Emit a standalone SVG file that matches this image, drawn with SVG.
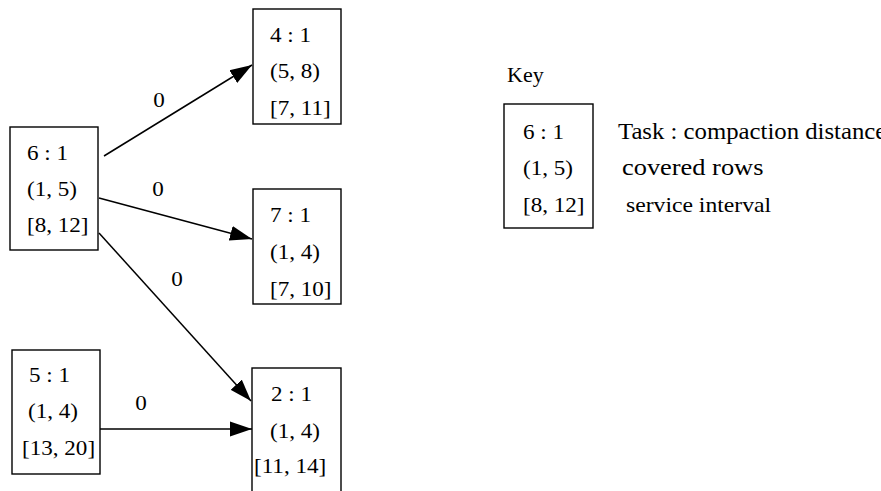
<svg xmlns="http://www.w3.org/2000/svg" width="881" height="491" viewBox="0 0 881 491">
<style>
  .box { fill: #ffffff; stroke: #000000; stroke-width: 1.4; }
  .edge { fill: none; stroke: #000000; stroke-width: 1.5; }
  text { font-family: "Liberation Serif", "Times New Roman", serif; fill: #000000; }
  .n { font-size: 21px; }
  .lbl { font-size: 21px; text-anchor: middle; }
</style>
<defs>
  <marker id="arrow" markerUnits="userSpaceOnUse" markerWidth="24" markerHeight="16" refX="22" refY="8" orient="auto">
    <path d="M0,0.5 L22,8 L0,15.5 z" fill="#000000"/>
  </marker>
</defs>
<rect width="881" height="491" fill="#ffffff"/>
<g id="connectors">
  <line class="edge" x1="104" y1="156" x2="252" y2="65" marker-end="url(#arrow)"/>
  <text class="lbl" transform="translate(159,107) scale(1.1,1)">0</text>
  <line class="edge" x1="99" y1="198" x2="252" y2="239" marker-end="url(#arrow)"/>
  <text class="lbl" transform="translate(158,196) scale(1.1,1)">0</text>
  <line class="edge" x1="99" y1="233" x2="251" y2="401" marker-end="url(#arrow)"/>
  <text class="lbl" transform="translate(177,286) scale(1.1,1)">0</text>
  <line class="edge" x1="100" y1="429" x2="252" y2="429" marker-end="url(#arrow)"/>
  <text class="lbl" transform="translate(141,410) scale(1.1,1)">0</text>
</g>
<g id="node6">
  <rect class="box" x="10" y="127" width="88" height="123"/>
  <text class="n" transform="translate(27,160) scale(1.1,1)">6 : 1</text>
  <text class="n" transform="translate(27,196) scale(1.1,1)">(1, 5)</text>
  <text class="n" transform="translate(27,232) scale(1.1,1)">[8, 12]</text>
</g>
<g id="node4">
  <rect class="box" x="253" y="9" width="88" height="115"/>
  <text class="n" transform="translate(270,42) scale(1.1,1)">4 : 1</text>
  <text class="n" transform="translate(270,78) scale(1.1,1)">(5, 8)</text>
  <text class="n" transform="translate(270,115) scale(1.1,1)">[7, 11]</text>
</g>
<g id="node7">
  <rect class="box" x="253" y="189" width="88" height="115"/>
  <text class="n" transform="translate(270,222) scale(1.1,1)">7 : 1</text>
  <text class="n" transform="translate(270,259) scale(1.1,1)">(1, 4)</text>
  <text class="n" transform="translate(270,296) scale(1.1,1)">[7, 10]</text>
</g>
<g id="node5">
  <rect class="box" x="12" y="350" width="88" height="124"/>
  <text class="n" transform="translate(29,382) scale(1.1,1)">5 : 1</text>
  <text class="n" transform="translate(28,418) scale(1.1,1)">(1, 4)</text>
  <text class="n" transform="translate(22,455) scale(1.1,1)">[13, 20]</text>
</g>
<g id="node2">
  <rect class="box" x="252" y="368" width="89" height="130"/>
  <text class="n" transform="translate(271,401) scale(1.1,1)">2 : 1</text>
  <text class="n" transform="translate(270,438) scale(1.1,1)">(1, 4)</text>
  <text class="n" transform="translate(254,473) scale(1.1,1)">[11, 14]</text>
</g>
<g id="key">
  <text transform="translate(507,82) scale(1.1,1)" style="font-size:20px">Key</text>
  <rect class="box" x="504" y="104" width="89" height="124"/>
  <text class="n" transform="translate(523,139) scale(1.1,1)">6 : 1</text>
  <text class="n" transform="translate(523,175) scale(1.1,1)">(1, 5)</text>
  <text class="n" transform="translate(523,212) scale(1.1,1)">[8, 12]</text>
  <text transform="translate(618,139) scale(1.1,1)" style="font-size:22.5px">Task : compaction distance</text>
  <text transform="translate(622,175) scale(1.1,1)" style="font-size:24px">covered rows</text>
  <text transform="translate(626,212) scale(1.1,1)" style="font-size:21.5px">service interval</text>
</g>
</svg>
